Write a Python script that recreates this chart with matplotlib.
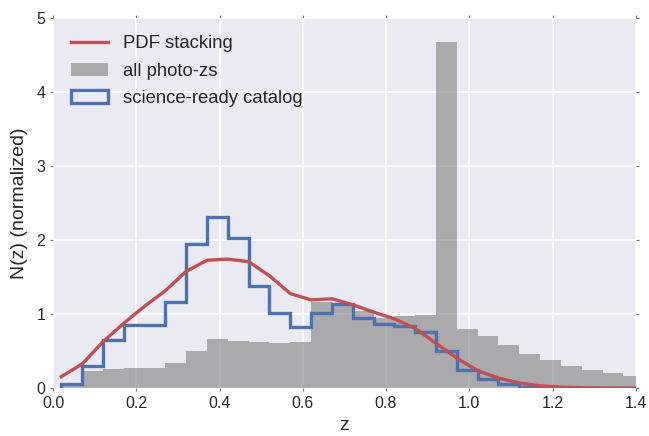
import numpy as np
import matplotlib
matplotlib.use("Agg")
import matplotlib.pyplot as plt
from matplotlib.patches import Patch
from matplotlib.lines import Line2D

# bin edges (width 0.05 starting at 0.02)
edges = [0.02, 0.07, 0.12, 0.17, 0.22, 0.27, 0.32, 0.37, 0.42, 0.47, 0.52, 0.57,
         0.62, 0.67, 0.72, 0.77, 0.82, 0.87, 0.92, 0.97, 1.02, 1.07, 1.12, 1.17,
         1.22, 1.27, 1.32, 1.37, 1.42]

# all photo-zs (gray histogram)
all_photoz = [0.05, 0.23, 0.26, 0.27, 0.28, 0.345, 0.51, 0.67, 0.64, 0.63, 0.62, 0.63,
              1.17, 1.13, 1.04, 0.95, 0.98, 0.99, 4.68, 0.80, 0.71, 0.58, 0.46, 0.38,
              0.30, 0.25, 0.205, 0.17]

# science-ready catalog (blue step histogram)
science = [0.06, 0.30, 0.655, 0.86, 0.85, 1.17, 1.95, 2.31, 2.03, 1.385, 1.02, 0.835,
           1.02, 1.14, 0.95, 0.87, 0.845, 0.76, 0.50, 0.25, 0.13, 0.06, 0.02, 0.008,
           0.003, 0.0, 0.0, 0.0]

# PDF stacking curve (at bin edges)
pdf_z = edges
pdf_n = [0.16, 0.33, 0.63, 0.88, 1.11, 1.32, 1.58, 1.73, 1.745, 1.71, 1.52, 1.28,
         1.195, 1.21, 1.13, 1.03, 0.94, 0.81, 0.61, 0.41, 0.24, 0.14, 0.075, 0.035,
         0.018, 0.01, 0.006, 0.004, 0.003]

plt.rcParams['font.family'] = ['Liberation Sans', 'DejaVu Sans']

fig = plt.figure(figsize=(6.49, 4.36), dpi=100)
ax = fig.add_axes([0.0817, 0.109, 0.898, 0.850])
ax.set_facecolor('#EAEAF2')
ax.set_axisbelow(True)
ax.grid(True, color='white', linewidth=1.2)
for s in ax.spines.values():
    s.set_visible(False)

e = np.array(edges)
ax.bar(e[:-1], all_photoz, width=np.diff(e), align='edge', color='gray',
       alpha=0.6, linewidth=0)
ax.stairs(science, edges, color='#4C72B0', linewidth=2.4, baseline=0)
ax.plot(pdf_z, pdf_n, color='#C44E52', linewidth=2.4)

ax.set_xlim(0, 1.4)
ax.set_ylim(0, 5)
ax.set_xticks(np.arange(0, 1.41, 0.2))
ax.set_xticklabels(['0.0', '0.2', '0.4', '0.6', '0.8', '1.0', '1.2', '1.4'])
ax.set_yticks([0, 1, 2, 3, 4, 5])
ax.tick_params(which='both', top=True, right=True, length=2.5, width=0.8,
               color='#777777', labelsize=11.5, labelcolor='#262626', pad=3)
ax.set_xlabel('z', fontsize=14, color='#262626', labelpad=4)
ax.set_ylabel('N(z) (normalized)', fontsize=14, color='#262626', labelpad=6)

handles = [Line2D([], [], color='#C44E52', linewidth=2.4),
           Patch(facecolor='gray', alpha=0.6, edgecolor='none'),
           Patch(facecolor='none', edgecolor='#4C72B0', linewidth=2.4)]
labels = ['PDF stacking', 'all photo-zs', 'science-ready catalog']
ax.legend(handles, labels, loc='upper left', frameon=False, fontsize=13.3,
          labelcolor='#262626', borderaxespad=0.55, handlelength=2.0,
          handletextpad=0.85, labelspacing=0.55)

fig.savefig('out.png', dpi=100)
